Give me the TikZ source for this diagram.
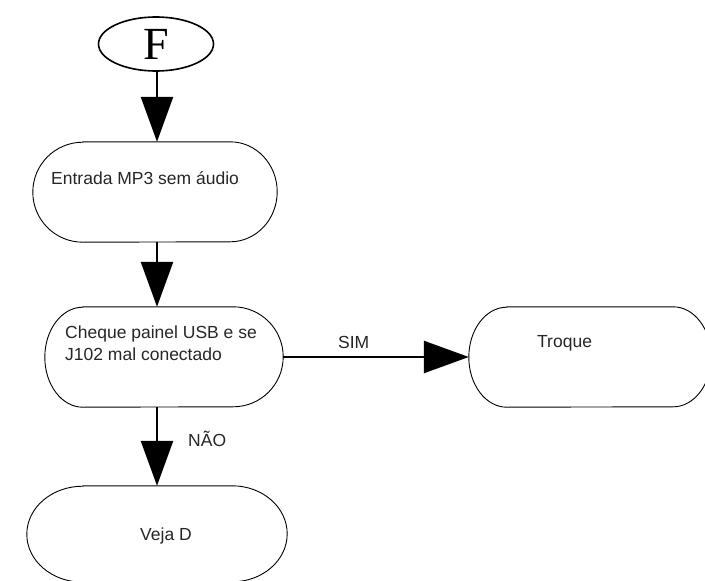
\documentclass[tikz,border=0pt]{standalone}
\usepackage{fontspec}
\setmainfont{Liberation Sans}
\newfontfamily\letterfont{Liberation Serif}
\usetikzlibrary{arrows.meta,calc,shapes.geometric}

% outline of a flowchart terminal with elliptical ends:
% #1 node name, #2 left end x-radius, #3 right end x-radius, #4 end y-radius
\newcommand\capsuleoutline[4]{%
  \draw[outline] ($(#1.north west)+(#2,0)$) -- ($(#1.north east)+(-#3,0)$)
    arc[start angle=90,end angle=-90,x radius=#3pt,y radius=#4pt]
    -- ($(#1.south west)+(#2,0)$)
    arc[start angle=270,end angle=90,x radius=#2pt,y radius=#4pt] -- cycle;}

\begin{document}
\begin{tikzpicture}[x=1pt,y=-1pt,
  outline/.style={draw=black,line width=0.9pt},
  conn/.style={line width=2.6pt,-{Triangle[length=45pt,width=32pt]}},
  box/.style={rectangle,draw=none,inner sep=0pt},
  lbl/.style={font=\fontsize{17.5}{22}\selectfont,text=black!85,inner sep=0pt,anchor=base west,align=left},
]
\useasboundingbox (0,0) rectangle (705,581);
\clip (0,0) rectangle (705,581);

% connector symbol
\node[ellipse,draw,line width=1.6pt,minimum width=115pt,minimum height=54pt,inner sep=0pt]
  (f) at (156,44) {\letterfont\fontsize{46}{46}\selectfont F};

% process boxes
\node[box,minimum width=244pt,minimum height=100pt] (b1) at (155,192) {};
\node[box,minimum width=238pt,minimum height=100pt] (b2) at (164,357) {};
\node[box,minimum width=242pt,minimum height=100pt] (tr) at (590,357) {};
\node[box,minimum width=260pt,minimum height=96pt] (b3) at (157,534) {};

\capsuleoutline{b1}{50}{47}{50}
\capsuleoutline{b2}{38}{50}{50}
\capsuleoutline{tr}{38}{38}{50}
\capsuleoutline{b3}{56}{55}{48}

% texts
\node[lbl] (t1) at (51,184) {Entrada MP3 sem áudio};
\node[lbl] (t2) at (65,360) {Cheque painel USB e se\\J102 mal conectado};
\node[lbl] (t3) at (537,347) {Troque};
\node[lbl] (t4) at (140,540) {Veja D};

% flow
\coordinate (c0) at (157,0);
\draw[conn] (f.south -| c0) -- (b1.north -| c0);
\draw[conn] (b1.south -| c0) -- (b2.north -| c0);
\draw[conn] (b2.east) -- (tr.west);
\draw[conn] (b2.south -| c0) -- (b3.north -| c0);

\node[lbl] (ls) at (338,348) {SIM};
\node[lbl] (ln) at (188,446) {NÃO};
\end{tikzpicture}
\end{document}
